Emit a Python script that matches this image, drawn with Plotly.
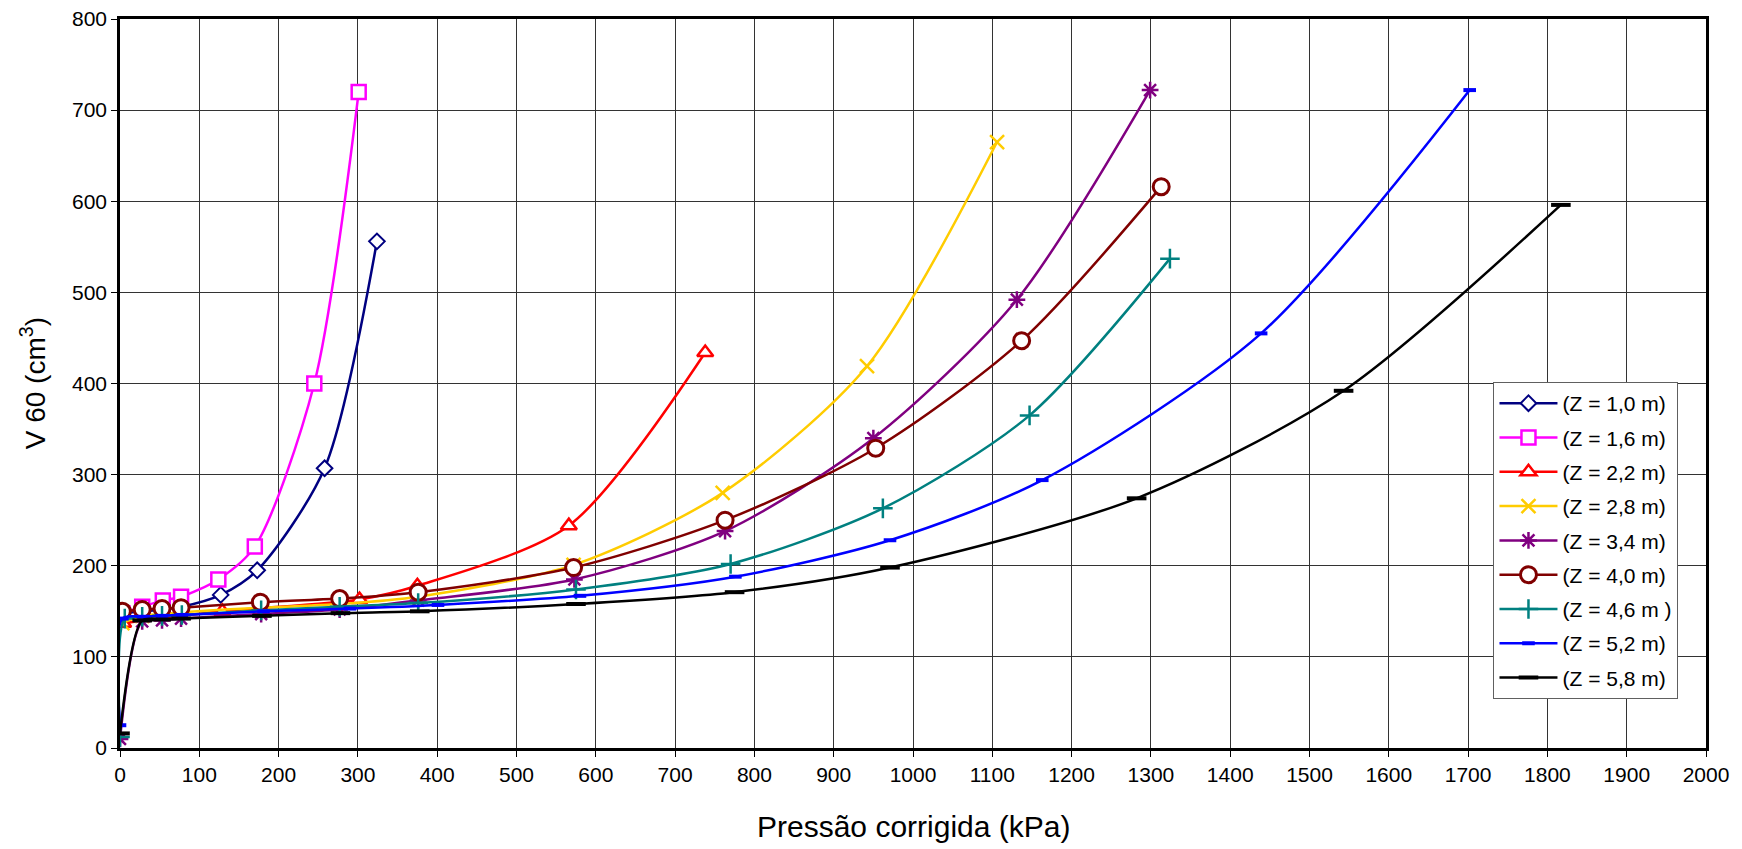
import plotly.graph_objects as go

# Pressão corrigida (kPa) x V60 (cm3), one curve per depth
z10_x = [3, 28, 53, 78, 127, 173, 258, 324]
z10_y = [148, 150, 152, 155, 168, 195, 307, 556]

z16_x = [3, 28, 54, 77, 124, 170, 245, 301]
z16_y = [148, 155, 162, 166, 185, 221, 400, 720]

z22_x = [4, 129, 302, 375, 566, 738]
z22_y = [137, 150, 163, 178, 244, 434]

z28_x = [3, 28, 53, 78, 178, 277, 376, 572, 760, 942, 1106]
z28_y = [137, 145, 147, 149, 154, 158, 166, 201, 280, 419, 665]

z34_x = [0, 28, 53, 77, 178, 277, 376, 573, 763, 950, 1131, 1299]
z34_y = [10, 139, 140, 142, 147, 152, 162, 185, 238, 340, 492, 722]

z40_x = [3, 28, 53, 77, 177, 277, 376, 572, 763, 953, 1137, 1313]
z40_y = [150, 152, 153, 154, 160, 164, 171, 198, 250, 329, 447, 616]

z46_x = [0, 6, 28, 53, 78, 178, 277, 376, 575, 770, 962, 1147, 1324]
z46_y = [12, 142, 144, 145, 146, 151, 155, 159, 174, 202, 263, 365, 537]

z52_x = [0, 3, 29, 53, 78, 181, 290, 401, 580, 776, 971, 1163, 1439, 1702]
z52_y = [25, 142, 144, 145, 146, 150, 153, 157, 167, 188, 228, 294, 455, 722]

z58_x = [0, 28, 52, 77, 179, 278, 378, 575, 775, 971, 1282, 1543, 1817]
z58_y = [16, 140, 141, 142, 145, 148, 150, 158, 171, 198, 274, 392, 596]

names = ["(Z = 1,0 m)", "(Z = 1,6 m)", "(Z = 2,2 m)", "(Z = 2,8 m)", "(Z = 3,4 m)",
         "(Z = 4,0 m)", "(Z = 4,6 m )", "(Z = 5,2 m)", "(Z = 5,8 m)"]

xs = [z10_x, z16_x, z22_x, z28_x, z34_x, z40_x, z46_x, z52_x, z58_x]
ys = [z10_y, z16_y, z22_y, z28_y, z34_y, z40_y, z46_y, z52_y, z58_y]

colors = ["#000080", "#FF00FF", "#FF0000", "#FFCC00", "#800080",
          "#800000", "#008080", "#0000FF", "#000000"]

markers = [
    dict(symbol="diamond", size=12, color="white", line=dict(color="#000080", width=2)),
    dict(symbol="square", size=14, color="white", line=dict(color="#FF00FF", width=2.5)),
    dict(symbol="triangle-up", size=14, color="white", line=dict(color="#FF0000", width=2.5)),
    dict(symbol="x-thin", size=14, color="#FFCC00", line=dict(color="#FFCC00", width=2.5)),
    dict(symbol="asterisk", size=14, color="#800080", line=dict(color="#800080", width=2.5)),
    dict(symbol="circle", size=16, color="white", line=dict(color="#800000", width=3)),
    dict(symbol="cross-thin", size=14, color="#008080", line=dict(color="#008080", width=2.5)),
    dict(symbol="line-ew", size=9, color="#0000FF", line=dict(color="#0000FF", width=4)),
    dict(symbol="line-ew", size=14, color="#000000", line=dict(color="#000000", width=4)),
]

fig = go.Figure()
for i in range(len(names)):
    fig.add_trace(go.Scatter(
        x=xs[i], y=ys[i], name=names[i], mode="lines+markers",
        line=dict(color=colors[i], width=2.5, shape="spline", smoothing=0.8),
        marker=markers[i], legendgroup=str(i),
    ))

# the page body adds 8px, so margins are shifted by that
font = "Arial, Liberation Sans, sans-serif"
fig.update_layout(
    width=1742, height=849,
    margin=dict(l=112, r=44, t=11, b=109),
    paper_bgcolor="white", plot_bgcolor="white",
    font=dict(family=font, size=21, color="black"),
    showlegend=True,
    legend=dict(x=0.866, y=0.502, xanchor="left", yanchor="top",
                bgcolor="white", bordercolor="#606060", borderwidth=1,
                font=dict(size=21), tracegroupgap=4, itemwidth=58),
    annotations=[
        dict(text="Pressão corrigida (kPa)", x=0.5, y=-0.107, xref="paper", yref="paper",
             xanchor="center", yanchor="middle", showarrow=False, font=dict(size=30)),
        dict(text="V 60 (cm<sup>3</sup>)", x=-0.055, y=0.5, xref="paper", yref="paper",
             xanchor="center", yanchor="middle", showarrow=False, textangle=-90,
             font=dict(size=28)),
    ],
)
fig.update_xaxes(
    range=[0, 2000], dtick=100, tick0=0, automargin=False, ticklabeloverflow="allow",
    showgrid=True, gridcolor="#333333", gridwidth=1,
    showline=True, linecolor="black", linewidth=2.5, mirror=True,
    ticks="outside", ticklen=6, tickcolor="black",
    zeroline=False,
)
fig.update_yaxes(
    range=[0, 800], dtick=100, tick0=0, automargin=False, ticklabeloverflow="allow",
    showgrid=True, gridcolor="#333333", gridwidth=1,
    showline=True, linecolor="black", linewidth=2.5, mirror=True,
    ticks="outside", ticklen=6, tickcolor="black",
    zeroline=False,
)

fig.write_html("out.html")
